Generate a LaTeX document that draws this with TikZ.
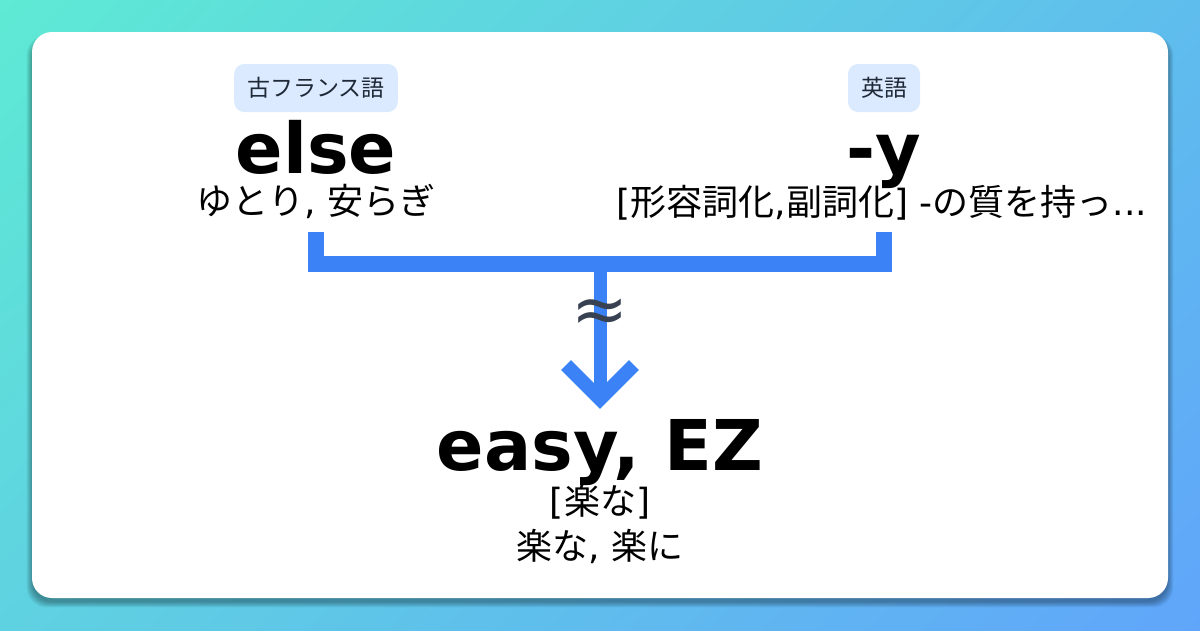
\documentclass[tikz,border=0pt]{standalone}
\usepackage{fontspec}
\setmainfont{DejaVu Sans}
\newfontfamily\jp{Noto Sans CJK JP}
\newfontfamily\dvs{DejaVu Sans}
\usetikzlibrary{shadings}
\definecolor{bgA}{HTML}{5EEAD4}
\definecolor{bgB}{HTML}{60A5FA}
\definecolor{bgTR}{HTML}{5FBDED}
\definecolor{bgBL}{HTML}{5FD2E1}
\definecolor{lineblue}{HTML}{3B82F6}
\definecolor{tagfill}{HTML}{DBEAFE}
\definecolor{approxcol}{HTML}{374151}
\definecolor{tagtext}{HTML}{1F2937}
\begin{document}
\begin{tikzpicture}[x=1pt,y=-1pt,
  tag/.style={fill=tagfill, rounded corners=10pt, minimum height=48pt, inner xsep=13pt, inner ysep=0pt, text=tagtext, font=\jp\fontsize{23}{23}\selectfont},
  word/.style={anchor=base, inner sep=0pt, font=\bfseries\fontsize{70}{70}\selectfont},
  gloss/.style={anchor=base, inner sep=0pt, font=\jp\fontsize{36}{36}\selectfont},
  link/.style={draw=lineblue, line width=16pt, line join=miter},
  stem/.style={draw=lineblue, line width=13pt},
  chevron/.style={draw=lineblue, line width=14pt, line join=miter},
]
\useasboundingbox (0,0) rectangle (1200,630);
\shade[upper left=bgA, upper right=bgTR, lower left=bgBL, lower right=bgB] (0,0) rectangle (1200,630);
% card shadow
\foreach \s in {0,...,9}{
  \fill[black, opacity=0.035, rounded corners=20pt] (32-\s*0.6,32+6-\s*0.3) rectangle (1168+\s*0.6,598+4+\s*0.6);
}
\fill[white, rounded corners=20pt] (32,32) rectangle (1168,598);

% tags
\node[tag] (tagL) at (316,88) {古フランス語};
\node[tag] (tagR) at (884,88) {英語};

% words
\node[word] (else) at (316,173) {else};
\node[word] (suffix) at (884,173) {-y};
\node[gloss] (elseg) at (316,214) {ゆとり{\dvs, }安らぎ};
\node[gloss] (suffixg) at (882,215) {{\dvs[}形容詞化{\dvs,}副詞化{\dvs] -}の質を持っ{\dvs...}};

\node[word] (easy) at (600,470) {easy, EZ};
\node[gloss] (easyg1) at (600,514) {{\dvs[}楽な{\dvs]}};
\node[gloss] (easyg2) at (600,559) {楽な{\dvs, }楽に};

% connectors
\coordinate (lt) at (316,232);
\coordinate (lb) at (316,264);
\coordinate (rt) at (884,232);
\coordinate (rb) at (884,264);
\coordinate (mid) at (600,264);
\coordinate (stemend) at (600,398);
\coordinate (tip) at (600,399);
\coordinate (armL) at (566,365);
\coordinate (armR) at (634,365);
\draw[link] (lt) -- (lb) -- (rb) -- (rt);
\draw[stem] (mid) -- (stemend);
\draw[chevron] (armL) -- (tip) -- (armR);
\node[anchor=base, inner sep=0pt, text=approxcol, font=\fontsize{68}{68}\selectfont] (approx) at (600,332) {≈};
\end{tikzpicture}
\end{document}
